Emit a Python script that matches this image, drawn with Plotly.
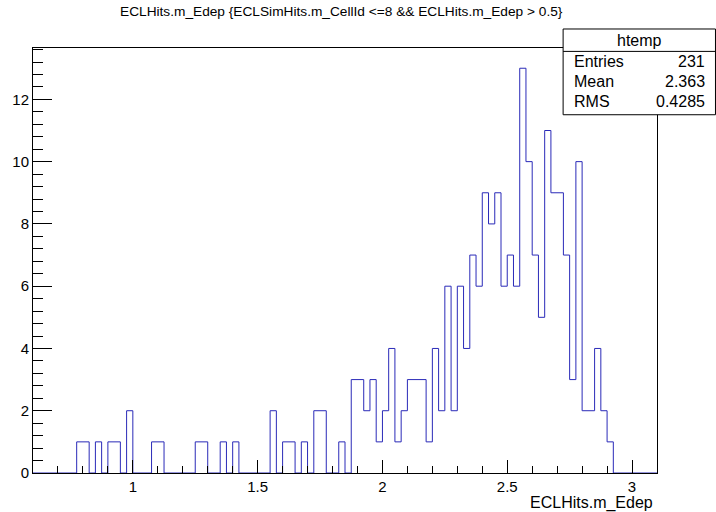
import numpy as np
import plotly.graph_objects as go

# ---- data ----
x_min = 0.6
bin_width = 0.025
counts = [0]*100
filled_bins = [7, 8, 10, 12, 13, 15, 19, 20, 26, 27, 30, 32,
               38, 40, 41, 43, 45, 46, 49,
               51, 52, 53, 54, 55, 56, 57, 58, 59,
               60, 61, 62, 63, 64, 65, 66, 67, 68, 69,
               70, 71, 72, 73, 74, 75, 76, 77,
               78, 79, 80, 81, 82, 83, 84, 85,
               86, 87, 88, 89, 90, 91, 92]
filled_vals = [1, 1, 1, 1, 1, 2, 1, 1, 1, 1, 1, 1,
               2, 1, 1, 1, 2, 2, 1,
               3, 3, 2, 3, 1, 2, 4, 1, 2,
               3, 3, 3, 1, 4, 2, 6, 2, 6, 4,
               7, 6, 9, 8, 9, 6, 7, 6,
               13, 10, 7, 5, 11, 9, 9, 7,
               3, 10, 2, 2, 4, 2, 1]
for b, v in zip(filled_bins, filled_vals):
    counts[b] = v

title_text = "ECLHits.m_Edep {ECLSimHits.m_CellId <=8 && ECLHits.m_Edep > 0.5}"
x_title = "ECLHits.m_Edep"
stats_name = "htemp"
stats_labels = ["Entries", "Mean", "RMS"]
stats_values = ["231", "2.363", "0.4285"]

# ---- build step outline ----
n = len(counts)
edges = x_min + bin_width*np.arange(n+1)
xs = [edges[0]]
ys = [0]
for i, c in enumerate(counts):
    xs += [edges[i], edges[i+1]]
    ys += [c, c]
xs.append(edges[-1]); ys.append(0)

fig = go.Figure(go.Scatter(x=xs, y=ys, mode="lines",
                           line=dict(color="#2a2ab8", width=1),
                           hoverinfo="skip", showlegend=False))

W, H = 716, 512
L, R, T, B = 29.3, 656.7, 48.3, 473.0
pw, ph = R - L, B - T
def px(x):
    return (x - L)/pw
def py(y):
    return (B - y)/ph

font = "Liberation Sans, Arial, Helvetica, sans-serif"
ymax = max(counts)*1.05

fig.update_layout(
    width=W, height=H,
    margin=dict(l=L, r=W-R, t=T, b=H-B, pad=0),
    paper_bgcolor="white", plot_bgcolor="white",
    font=dict(family=font, color="black", size=15),
    xaxis=dict(range=[x_min, edges[-1]], showgrid=False, zeroline=False,
               showline=True, linecolor="black", linewidth=1, mirror=True,
               ticks="inside", ticklen=13, tickcolor="black", tickwidth=1,
               tick0=0, dtick=0.5, tickfont=dict(size=15),
               minor=dict(ticks="inside", ticklen=7, dtick=0.1, tick0=0,
                          tickcolor="black", showgrid=False)),
    yaxis=dict(range=[0, ymax], showgrid=False, zeroline=False,
               showline=True, linecolor="black", linewidth=1, mirror=True,
               ticks="inside", ticklen=19, tickcolor="black", tickwidth=1,
               tick0=0, dtick=2, tickfont=dict(size=15),
               minor=dict(ticks="inside", ticklen=10, dtick=0.4, tick0=0,
                          tickcolor="black", showgrid=False)),
)

annotations = [
    dict(text=title_text, x=px(339), y=py(12), xref="paper", yref="paper",
         showarrow=False, xanchor="center", yanchor="middle",
         font=dict(size=13.7)),
    dict(text=x_title, x=px(655), y=py(503), xref="paper", yref="paper",
         showarrow=False, xanchor="right", yanchor="middle",
         font=dict(size=16)),
    dict(text=stats_name, x=px(639), y=py(40.5), xref="paper", yref="paper",
         showarrow=False, xanchor="center", yanchor="middle",
         font=dict(size=16)),
]
row_y = [61.7, 81.7, 101.7]
for lab, val, yy in zip(stats_labels, stats_values, row_y):
    annotations.append(dict(text=lab, x=px(571), y=py(yy), xref="paper", yref="paper",
                            showarrow=False, xanchor="left", yanchor="middle",
                            font=dict(size=16)))
    annotations.append(dict(text=val, x=px(707), y=py(yy), xref="paper", yref="paper",
                            showarrow=False, xanchor="right", yanchor="middle",
                            font=dict(size=16)))
fig.update_layout(annotations=annotations)

fig.update_layout(shapes=[
    dict(type="rect", xref="paper", yref="paper",
         x0=px(562.3), x1=px(715.5), y0=py(115), y1=py(29.3),
         line=dict(color="black", width=1), fillcolor="white", layer="above"),
    dict(type="line", xref="paper", yref="paper",
         x0=px(562.3), x1=px(715.5), y0=py(51.7), y1=py(51.7),
         line=dict(color="black", width=1), layer="above"),
])

fig.write_html("out.html")
